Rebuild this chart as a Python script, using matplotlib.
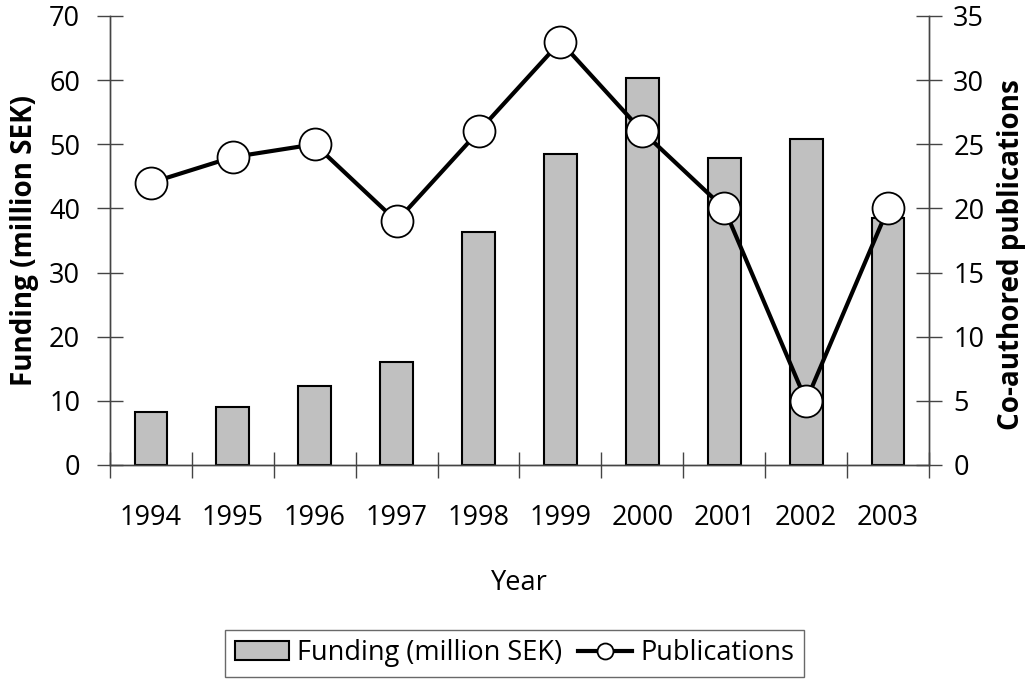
import numpy as np
import matplotlib.pyplot as plt
from matplotlib.ticker import FixedLocator

plt.rcParams['font.family'] = ['Open Sans', 'DejaVu Sans']

years = ['1994', '1995', '1996', '1997', '1998', '1999', '2000', '2001', '2002', '2003']
funding = [8.3, 9.0, 12.3, 16.0, 36.3, 48.5, 60.3, 47.8, 50.8, 38.5]
publications = [22, 24, 25, 19, 26, 33, 26, 20, 5, 20]

fig = plt.figure(figsize=(10.29, 6.8), dpi=100)
ax = fig.add_axes([0.1069, 0.3162, 0.7959, 0.6603])
ax2 = ax.twinx()

x = np.arange(len(years))
axcol = '#444444'
fs = 19.5

ax.bar(x, funding, width=0.4, color='#c0c0c0', edgecolor='black', linewidth=1.5,
       label='Funding (million SEK)', zorder=2)
ax2.plot(x, publications, color='black', lw=3, marker='o', ms=23,
         mfc='white', mec='black', mew=1.3, label='Publications', zorder=3)

ax.set_xlim(-0.5, len(years) - 0.5)
ax.set_ylim(0, 70)
ax2.set_ylim(0, 35)
ax.set_yticks(np.arange(0, 71, 10))
ax2.set_yticks(np.arange(0, 36, 5))

# category boundaries carry the ticks, labels sit on the centres
ax.xaxis.set_major_locator(FixedLocator(np.arange(-0.5, len(years), 1.0)))
ax.set_xticklabels([])
ax.xaxis.set_minor_locator(FixedLocator(x))
ax.set_xticklabels(years, minor=True)
ax.tick_params(axis='x', which='major', direction='inout', length=19, color=axcol, width=1)
ax.tick_params(axis='x', which='minor', length=0, pad=28, labelsize=fs)
ax.tick_params(axis='y', direction='inout', length=19, color=axcol, width=1,
               labelsize=fs, pad=12)
ax2.tick_params(axis='y', direction='inout', length=19, color=axcol, width=1,
                labelsize=fs, pad=8)

for a in (ax, ax2):
    a.spines['top'].set_visible(False)
    for s in ('left', 'right', 'bottom'):
        a.spines[s].set_color(axcol)
        a.spines[s].set_linewidth(1)

ax.set_ylabel('Funding (million SEK)', fontsize=20, fontweight='bold', va='center')
ax.yaxis.set_label_coords(-0.104, 0.5)
ax2.set_ylabel('Co-authored publications', fontsize=20, fontweight='bold',
               va='center')
ax2.yaxis.set_label_coords(1.101, 0.468)
ax.set_xlabel('Year', fontsize=fs, labelpad=27)

h1, l1 = ax.get_legend_handles_labels()
h2, l2 = ax2.get_legend_handles_labels()
leg = fig.legend(h1 + h2, l1 + l2, loc='lower center', bbox_to_anchor=(0.5, -0.015),
                 ncol=2, fontsize=fs, frameon=True, fancybox=False,
                 handlelength=2.0, handletextpad=0.3, columnspacing=0.6,
                 borderpad=0.35, markerscale=0.5)
leg.get_frame().set_edgecolor(axcol)
leg.get_frame().set_linewidth(1)

fig.savefig('out.png', dpi=100)
